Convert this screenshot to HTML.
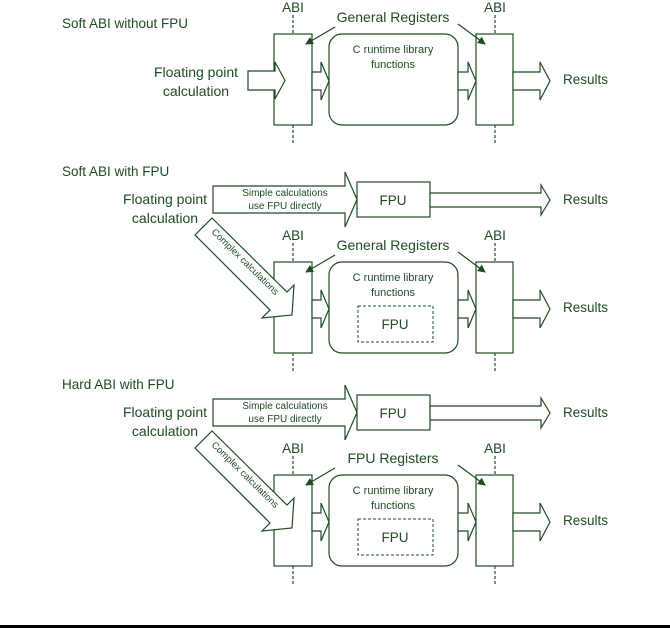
<!DOCTYPE html>
<html><head><meta charset="utf-8"><style>
html,body{margin:0;padding:0;background:#fff;}
svg{display:block;}
text{font-family:"Liberation Sans",sans-serif;fill:#1f4a24;}
</style></head><body>
<svg width="670" height="628" viewBox="0 0 670 628" xmlns="http://www.w3.org/2000/svg">
<defs>
<marker id="ah" markerWidth="8" markerHeight="8" refX="7" refY="4" orient="auto" markerUnits="userSpaceOnUse">
<path d="M0,0 L8,4 L0,8 z" fill="#1f4a24"/>
</marker>
<g id="lower" fill="none" stroke="#1f4a24" stroke-width="1.2">
  <line x1="293" y1="243" x2="293" y2="262" stroke-dasharray="3,2"/>
  <line x1="293" y1="353" x2="293" y2="372" stroke-dasharray="3,2"/>
  <line x1="495" y1="243" x2="495" y2="262" stroke-dasharray="3,2"/>
  <line x1="495" y1="353" x2="495" y2="372" stroke-dasharray="3,2"/>
  <rect x="274" y="262" width="38" height="91" fill="#fff"/>
  <rect x="329" y="262" width="129" height="91" rx="13" fill="#fff"/>
  <rect x="476" y="262" width="37" height="91" fill="#fff"/>
  <polygon points="312,300 321,300 321,290 329,309 321,328 321,318 312,318" fill="#fff"/>
  <polygon points="458,300 468,300 468,290 476,309 468,328 468,318 458,318" fill="#fff"/>
  <polygon points="513,300 540,300 540,290 550,309 540,328 540,318 513,318" fill="#fff"/>
  <line x1="335" y1="255" x2="306" y2="272" marker-end="url(#ah)"/>
  <line x1="458" y1="252" x2="485" y2="272" marker-end="url(#ah)"/>
</g>
<g id="lowerText" font-size="14">
  <text x="293" y="240" text-anchor="middle" style="font-size:13.5px">ABI</text>
  <text x="495" y="240" text-anchor="middle" style="font-size:13.5px">ABI</text>
  <text x="393" y="281" text-anchor="middle" style="font-size:11px">C runtime library</text>
  <text x="393" y="296" text-anchor="middle" style="font-size:11px">functions</text>
  <text x="563" y="312" style="font-size:13.5px">Results</text>
</g>
<g id="upper" fill="none" stroke="#1f4a24" stroke-width="1.2">
  <polygon points="213,186 345,186 345,172 357,199.5 345,227 345,213 213,213" fill="#fff"/>
  <rect x="357" y="182" width="73" height="35" fill="#fff"/>
  <polygon points="430,193 541,193 541,185 550,200 541,215 541,207 430,207" fill="#fff"/>
  <polygon points="212,218 287,292 294,285 292,315 262,318 270,310 195,235" fill="#fff"/>
</g>
<g id="upperText">
  <text x="165" y="204" text-anchor="middle" style="font-size:14px">Floating point</text>
  <text x="165" y="223" text-anchor="middle" style="font-size:14px">calculation</text>
  <text x="285" y="196" text-anchor="middle" style="font-size:10px">Simple calculations</text>
  <text x="285" y="209" text-anchor="middle" style="font-size:10px">use FPU directly</text>
  <text x="393" y="205" text-anchor="middle" style="font-size:13.5px">FPU</text>
  <text x="563" y="204" style="font-size:13.5px">Results</text>
  <text x="0" y="0" text-anchor="middle" transform="translate(243,264) rotate(44.5)" style="font-size:9.5px">Complex calculations</text>
</g>
</defs>

<text x="62" y="28" style="font-size:13.5px">Soft ABI without FPU</text>
<g transform="translate(0,-228)">
  <use href="#lower"/>
  <use href="#lowerText"/>
  <text x="393" y="250" text-anchor="middle" style="font-size:14px">General Registers</text>
</g>
<polygon points="248,71 275,71 275,62 285,80.5 275,99 275,90 248,90" fill="#fff" stroke="#1f4a24" stroke-width="1.2"/>
<text x="196" y="77" text-anchor="middle" style="font-size:14px">Floating point</text>
<text x="196" y="96" text-anchor="middle" style="font-size:14px">calculation</text>

<text x="62" y="176" style="font-size:13.5px">Soft ABI with FPU</text>
<use href="#lower"/>
<use href="#lowerText"/>
<text x="393" y="250" text-anchor="middle" style="font-size:14px">General Registers</text>
<rect x="358" y="306" width="75" height="36" fill="none" stroke="#1f4a24" stroke-width="1" stroke-dasharray="3,2"/>
<text x="395" y="329" text-anchor="middle" style="font-size:13.5px">FPU</text>
<use href="#upper"/>
<use href="#upperText"/>

<text x="62" y="389" style="font-size:13.5px">Hard ABI with FPU</text>
<g transform="translate(0,213)">
  <use href="#lower"/>
  <use href="#lowerText"/>
  <text x="393" y="250" text-anchor="middle" style="font-size:14px">FPU Registers</text>
  <rect x="358" y="306" width="75" height="36" fill="none" stroke="#1f4a24" stroke-width="1" stroke-dasharray="3,2"/>
  <text x="395" y="329" text-anchor="middle" style="font-size:13.5px">FPU</text>
  <use href="#upper"/>
  <use href="#upperText"/>
</g>

<rect x="0" y="625" width="670" height="3" fill="#000"/>
</svg>
</body></html>
